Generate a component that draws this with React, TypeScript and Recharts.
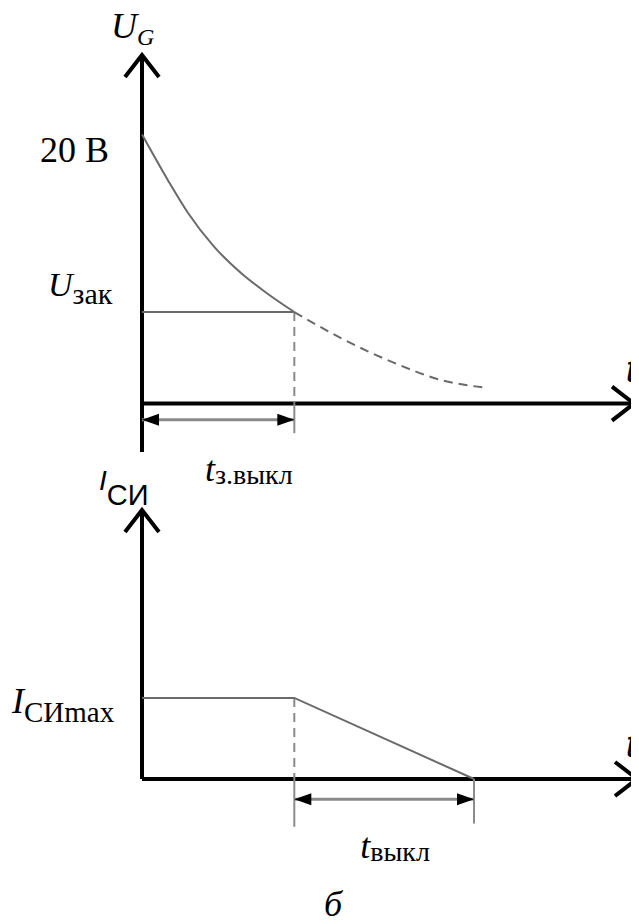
import React from 'react';
import { LineChart, Line, XAxis, YAxis, ReferenceLine } from 'recharts';

// Gate voltage while switching off (solid part, down to the closing threshold)
const GATE_T = [0, 0.17, 0.3, 0.47, 0.65, 0.82, 1.0];
const GATE_U = [20, 16.6, 14.2, 11.7, 9.7, 8.2, 6.8];
// What the gate would do afterwards (dashed continuation)
const TAIL_T = [1.0, 1.3, 1.64, 1.98, 2.24];
const TAIL_U = [6.8, 4.9, 3.1, 1.7, 1.2];

const U_START = 20;
const U_ZAK = 6.8;
const T_DELAY = 1.0;

// Drain-source current, relative to its maximum
const CUR_T = [0, 1.0, 2.18];
const CUR_I = [1, 1, 0];
const I_MAX = 1;
const T_FALL_END = 2.18;

const SERIF = "'Liberation Serif', 'Times New Roman', serif";
const SANS = "'Liberation Sans', Arial, sans-serif";
const GREY = '#6a6a6a';
const LIGHT = '#8a8a8a';

const gateRows = [
  ...GATE_T.map((t, i) => ({ t, u: GATE_U[i] })),
  ...TAIL_T.map((t, i) => ({ t, tail: TAIL_U[i] })),
];
const currentRows = CUR_T.map((t, i) => ({ t, i: CUR_I[i] }));

// open chevron at the top of a vertical axis
const upArrow = (title: React.ReactNode) => (props: any) => {
  const { x, y } = props.viewBox;
  return (
    <g>
      <path d={`M${x - 17},${y + 22} L${x},${y} L${x + 17},${y + 22}`} fill="none" stroke="#000" strokeWidth={4} />
      {title}
    </g>
  );
};

// open chevron at the right end of the time axis, with the "t" caption
const rightArrow = (props: any) => {
  const { x, y, width } = props.viewBox;
  const tip = x + width;
  return (
    <g>
      <path d={`M${tip - 22},${y - 17} L${tip},${y} L${tip - 22},${y + 17}`} fill="none" stroke="#000" strokeWidth={4} />
      <text x={636} y={y - 22} textAnchor="end" fontFamily={SANS} fontStyle="italic" fontSize={36} fill="#000">t</text>
    </g>
  );
};

// dimension line heads plus its caption
const dimension = (main: string, sub: string, dx: number, dy: number) => (props: any) => {
  const { x, y, width } = props.viewBox;
  const r = x + width;
  return (
    <g>
      <path d={`M${x},${y} L${x + 17},${y - 6} L${x + 17},${y + 6} Z`} fill="#000" />
      <path d={`M${r},${y} L${r - 17},${y - 6} L${r - 17},${y + 6} Z`} fill="#000" />
      <text x={x + dx} y={y + dy} fontFamily={SERIF} fontSize={36} fill="#000">
        <tspan fontStyle="italic">{main}</tspan>
        <tspan fontSize={28} dy={3}>{sub}</tspan>
      </text>
    </g>
  );
};

const GateTick = (props: any) => {
  const { y, payload } = props;
  if (payload.value === U_START) {
    return (
      <text x={40} y={y + 28} fontFamily={SERIF} fontSize={36} fill="#000">20 В</text>
    );
  }
  return (
    <text x={48} y={y - 16} fontFamily={SERIF} fontSize={34} fill="#000">
      <tspan fontStyle="italic">U</tspan>
      <tspan fontSize={30} dy={8}>зак</tspan>
    </text>
  );
};

const CurrentTick = (props: any) => {
  const { y } = props;
  return (
    <text x={12} y={y + 15} fontFamily={SERIF} fontSize={36} fill="#000">
      <tspan fontStyle="italic">I</tspan>
      <tspan fontSize={29} dy={9}>СИmax</tspan>
    </text>
  );
};

const GateChart = () => (
  <LineChart width={639} height={500} data={gateRows} margin={{ top: 55, right: 5, bottom: 48, left: 0 }}>
    <XAxis type="number" dataKey="t" domain={[0, 3.23]} hide />
    <YAxis
      type="number"
      domain={[-3.6, 25.9]}
      ticks={[U_ZAK, U_START]}
      interval={0}
      axisLine={false}
      tickLine={false}
      tick={<GateTick />}
      width={142}
    />
    <ReferenceLine
      x={0}
      stroke="#000"
      strokeWidth={4}
      label={upArrow(
        <text x={111} y={38} fontFamily={SERIF} fontStyle="italic" fontSize={36} fill="#000">
          U<tspan fontSize={24} dy={7}>G</tspan>
        </text>
      )}
    />
    <ReferenceLine y={0} stroke="#000" strokeWidth={4} label={rightArrow} />
    <ReferenceLine segment={[{ x: 0, y: U_ZAK }, { x: T_DELAY, y: U_ZAK }]} stroke={GREY} strokeWidth={2} />
    <ReferenceLine segment={[{ x: T_DELAY, y: U_ZAK }, { x: T_DELAY, y: 0 }]} stroke={LIGHT} strokeWidth={2} strokeDasharray="9 6" />
    <ReferenceLine segment={[{ x: T_DELAY, y: 0 }, { x: T_DELAY, y: -2.2 }]} stroke={LIGHT} strokeWidth={2} />
    <ReferenceLine
      segment={[{ x: 0, y: -1.2 }, { x: T_DELAY, y: -1.2 }]}
      stroke={LIGHT}
      strokeWidth={3}
      label={dimension('t', 'з.выкл', 63, 61)}
    />
    <Line type="monotone" dataKey="u" stroke={GREY} strokeWidth={2} dot={false} activeDot={false} isAnimationActive={false} />
    <Line type="monotone" dataKey="tail" stroke={GREY} strokeWidth={2} strokeDasharray="9 6" dot={false} activeDot={false} isAnimationActive={false} />
  </LineChart>
);

const CurrentChart = () => (
  <LineChart width={639} height={469} data={currentRows} margin={{ top: 55, right: 2, bottom: 64, left: 0 }}>
    <XAxis type="number" dataKey="t" domain={[0, 3.25]} hide />
    <YAxis
      type="number"
      domain={[-1, 3.32]}
      ticks={[I_MAX]}
      interval={0}
      axisLine={false}
      tickLine={false}
      tick={<CurrentTick />}
      width={142}
    />
    <ReferenceLine
      segment={[{ x: 0, y: 0 }, { x: 0, y: 3.32 }]}
      stroke="#000"
      strokeWidth={4}
      label={upArrow(
        <text x={99} y={35} fontFamily={SANS} fontStyle="italic" fontSize={28} fill="#000">
          I<tspan fontStyle="normal" fontSize={29} dy={15}>СИ</tspan>
        </text>
      )}
    />
    <ReferenceLine y={0} stroke="#000" strokeWidth={4} label={rightArrow} />
    <ReferenceLine segment={[{ x: T_DELAY, y: I_MAX }, { x: T_DELAY, y: 0 }]} stroke={LIGHT} strokeWidth={2} strokeDasharray="9 6" />
    <ReferenceLine segment={[{ x: T_DELAY, y: 0 }, { x: T_DELAY, y: -0.59 }]} stroke={LIGHT} strokeWidth={2} />
    <ReferenceLine segment={[{ x: T_FALL_END, y: 0 }, { x: T_FALL_END, y: -0.55 }]} stroke={LIGHT} strokeWidth={2} />
    <ReferenceLine
      segment={[{ x: T_DELAY, y: -0.25 }, { x: T_FALL_END, y: -0.25 }]}
      stroke={LIGHT}
      strokeWidth={3}
      label={dimension('t', 'выкл', 66, 59)}
    />
    <Line type="linear" dataKey="i" stroke={GREY} strokeWidth={2} dot={false} activeDot={false} isAnimationActive={false} />
  </LineChart>
);

export default function App() {
  return (
    <div style={{ position: 'relative', width: 639, height: 924, margin: -8, background: '#fff', overflow: 'hidden' }}>
      <div style={{ position: 'absolute', left: 0, top: 0 }}>
        <GateChart />
      </div>
      <div style={{ position: 'absolute', left: 0, top: 455 }}>
        <CurrentChart />
      </div>
      <div
        style={{
          position: 'absolute',
          left: 324,
          top: 884,
          fontFamily: SERIF,
          fontStyle: 'italic',
          fontSize: 36,
          lineHeight: '40px',
        }}
      >
        б
      </div>
    </div>
  );
}
